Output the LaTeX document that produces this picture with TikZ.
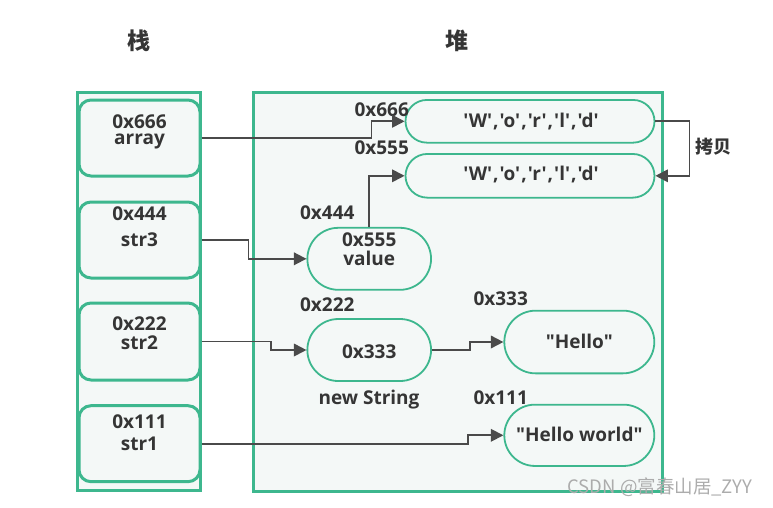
\documentclass[tikz,border=0pt]{standalone}
\usepackage{fontspec}
\newfontfamily\mf{Open Sans}
\setmainfont{Open Sans}
\newfontfamily\cjk{Noto Sans CJK SC}
\usetikzlibrary{arrows.meta,shapes.misc}
\definecolor{gr}{HTML}{3DB78E}
\definecolor{bgc}{HTML}{F4F8F7}
\definecolor{tx}{HTML}{353535}
\definecolor{ln}{HTML}{4A4A4A}
\newcommand\cm{\kern1pt,\kern1pt}
\tikzset{
  colbox/.style={draw=gr, line width=3pt, fill=bgc, inner sep=0pt},
  stackbox/.style={draw=gr, line width=3pt, fill=bgc, rounded corners=12pt, minimum width=121pt, inner sep=0pt},
  heapnode/.style={rounded rectangle, draw=gr, line width=1.8pt, fill=bgc, inner sep=0pt},
  lbl/.style={text=tx, font=\mf\bfseries\fontsize{19}{19}\selectfont, inner sep=0pt, anchor=base},
  ttl/.style={text=tx, font=\cjk\bfseries\fontsize{23}{23}\selectfont, inner sep=0pt},
  conn/.style={draw=ln, line width=1.8pt, -{Triangle[length=12.5pt,width=12.5pt]}},
}
\begin{document}
\begin{tikzpicture}[x=1pt,y=-1pt]
\path[use as bounding box] (0,0) rectangle (773,507);
% titles
\node[ttl] (tstack) at (139,41) {栈};
\node[ttl] (theap) at (456.7,41) {堆};
% containers
\node[colbox, minimum width=123pt, minimum height=398pt] (stack) at (139.4,291.7) {};
\node[colbox, minimum width=409pt, minimum height=399pt] (heap) at (457.8,291.5) {};
% stack boxes
\node[stackbox, minimum height=76pt] (box1) at (139.5,138) {};
\node[stackbox, minimum height=76pt] (box2) at (139.5,240) {};
\node[stackbox, minimum height=77pt] (box3) at (139.5,341.5) {};
\node[stackbox, minimum height=76pt] (box4) at (139.5,443.7) {};
\node[lbl, align=center, font=\mf\bfseries\fontsize{19}{16}\selectfont] (b1a) at (139.5,144.3) {0x666\\array};
\node[lbl] (b2a) at (139.5,220) {0x444};
\node[lbl] (b2b) at (139.5,246.7) {str3};
\node[lbl] (b3a) at (139.5,330) {0x222};
\node[lbl] (b3b) at (139.5,349) {str2};
\node[lbl] (b4a) at (139.5,428.3) {0x111};
\node[lbl] (b4b) at (139.5,450) {str1};
% heap nodes
\node[heapnode, minimum width=249pt, minimum height=42.7pt] (w1) at (530,121.3) {};
\node[heapnode, minimum width=249pt, minimum height=43.7pt] (w2) at (530,175.8) {};
\node[heapnode, minimum width=123.7pt, minimum height=62pt] (val) at (369.2,258.8) {};
\node[heapnode, minimum width=123.7pt, minimum height=62pt] (n333) at (369.2,350) {};
\node[heapnode, minimum width=150pt, minimum height=62.7pt] (hello) at (579.3,342) {};
\node[heapnode, minimum width=150pt, minimum height=61.3pt] (hw) at (579.3,435.3) {};
\node[lbl] (w1t) at (531,127.3) {'W'\cm'o'\cm'r'\cm'l'\cm'd'};
\node[lbl] (w2t) at (531,180.7) {'W'\cm'o'\cm'r'\cm'l'\cm'd'};
\node[lbl, align=center, font=\mf\bfseries\fontsize{19}{19}\selectfont] (valt1) at (369.2,265.7) {0x555\\value};
\node[lbl] (n333t) at (369.2,358.3) {0x333};
\node[lbl] (hellot) at (579.3,348.3) {"Hello"};
\node[lbl] (hwt) at (579.3,441.7) {"Hello world"};
% address labels
\node[lbl] (a666) at (381.7,116) {0x666};
\node[lbl] (a555) at (381.7,154) {0x555};
\node[lbl] (a444) at (327.3,219.3) {0x444};
\node[lbl] (a222) at (327.3,311) {0x222};
\node[lbl] (a333) at (500.7,305) {0x333};
\node[lbl] (anew) at (369,404) {new String};
\node[lbl] (a111) at (500.7,404) {0x111};
\node[ttl, font=\cjk\bfseries\fontsize{18}{18}\selectfont] (copy) at (713,147) {拷贝};
% watermark
\node[inner sep=0pt, text=gray!65, font=\cjk\fontsize{18.5}{18.5}\selectfont] (wm) at (660,487) {CSDN @富春山居\_ZYY};
% connectors
\draw[conn] (box1.east) -- ++(170,0) |- (w1.west);
\draw[conn] (box2.east) -- ++(47,0) |- (val.west);
\draw[conn] (val.north) |- (w2.west);
\draw[conn] (box3.east) -- ++(69.5,0) |- (n333.west);
\draw[conn] (n333.east) -- ++(38,0) |- (hello.west);
\draw[conn] (box4.east) -- ++(266.5,0) |- (hw.west);
\draw[conn] (w1.east) -- ++(34,0) |- (w2.east);
\end{tikzpicture}
\end{document}
